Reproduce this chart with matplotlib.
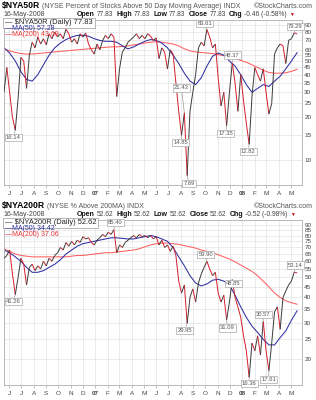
import matplotlib
matplotlib.use('Agg')
import matplotlib.pyplot as plt
import matplotlib.dates as mdates
from matplotlib.collections import LineCollection
from matplotlib.text import Annotation
from matplotlib.ticker import NullLocator
import numpy as np
import pandas as pd
import datetime as dt

W, H = 316, 400
plt.rcParams['font.family'] = ['Liberation Sans', 'DejaVu Sans']

# ---------------- data ----------------
dates = pd.date_range('2006-05-19', periods=105, freq='7D')
ma_dates = pd.date_range('2006-05-19', periods=53, freq='14D')

nya50 = [30, 45, 30, 20, 16.14, 27, 53, 50, 32, 55,
         68, 62, 74, 66, 72, 65, 78, 72, 80, 74,
         78, 72, 84, 78, 68, 72, 66, 78, 74, 79,
         66, 60, 56, 66, 60, 70, 76, 72, 78, 74,
         28, 44, 58, 62, 68, 71,
         74, 78, 72, 76, 72, 78, 75, 70, 73, 52,
         62, 58, 44, 60, 56, 35, 22, 14.85, 21.43, 7.69,
         22, 30, 40, 62, 68, 64, 83.61, 74, 62, 66,
         38, 24, 30, 17.35, 30, 48.37, 35, 22, 40, 26,
         18, 12.82, 28, 45, 40, 36, 44, 30, 21, 25,
         56, 62, 66, 64, 48, 70, 72, 79.29, 77.83]
nya50_ma50 = [62, 57, 50, 42, 37, 36, 40, 47, 55, 62,
              67, 71, 74, 76, 76, 75, 72, 70, 69, 69,
              68, 64, 61, 63, 66, 69, 71, 70, 67, 62,
              55, 48, 41, 36, 34, 38, 46, 54, 57, 55,
              50, 46, 40, 34, 30, 32, 34, 33, 36, 39,
              44, 50, 57.28]
nya50_ma200 = [61, 59, 57.5, 56.5, 56, 56, 56.5, 57, 57.5, 58,
               58.5, 59, 59.5, 60, 60.5, 61, 61.5, 62, 62.5, 63,
               63, 63.5, 64, 65, 66, 67, 68, 68.5, 68, 67,
               66, 64, 61, 59, 58, 57.5, 57, 56.5, 55.5, 54.5,
               53, 52, 50.5, 49, 47, 45, 43, 41.5, 41, 41,
               41.3, 42.2, 43.69]

nya200 = [62, 64, 68, 52, 41.26, 50, 62, 58, 46, 56,
          58, 54, 57, 55, 60, 57, 62, 60, 64, 66,
          70, 68, 74, 71, 75, 72, 76, 74, 79, 77,
          78, 74, 72, 76, 78, 81, 79, 83, 81, 85.40,
          66, 72, 70, 74, 76, 78,
          80, 78, 81, 79, 80, 78, 80, 77, 79, 72,
          76, 70, 72, 67, 71, 64, 48, 42, 46, 29.95,
          40, 44, 38, 47, 52, 56, 59.90, 55, 51, 53,
          42, 38, 41, 31.09, 38, 48.85, 40, 36, 32, 26,
          22, 16.36, 24, 22, 26, 21, 30.57, 22, 17.61, 24,
          34, 36, 28, 40, 43, 46, 48, 53.14, 52.62]
nya200_ma50 = [68, 66, 63, 60, 56, 53, 53, 54, 56, 58,
               61, 65, 68, 71, 73, 74, 75, 76, 77, 78,
               78, 77.5, 77, 77, 78, 79, 80, 79, 77, 75,
               70, 63, 57, 51, 47, 45.5, 46.5, 48.5, 49, 48,
               46, 41, 36, 32, 29, 27, 25, 23.5, 23.5, 25.5,
               27.5, 31, 34.42]
nya200_ma200 = [69, 67, 65, 64, 63.5, 63, 63, 63, 63, 63,
                63, 63, 63.5, 64, 64, 64.5, 65, 65.5, 66, 66,
                66.5, 67, 67.5, 68, 69, 70.5, 72, 73, 73.5, 73.5,
                73, 72.5, 71.5, 70.5, 69.5, 68, 67, 66, 64.5, 63,
                61.5, 59.5, 57.5, 55.5, 53.5, 51, 48, 45, 42, 40,
                38.5, 37.7, 37.06]

month_ticks = pd.date_range('2006-06-01', '2008-05-01', freq='MS')
month_labels = ['J', 'J', 'A', 'S', 'O', 'N', 'D', '07', 'F', 'M', 'A', 'M',
                'J', 'J', 'A', 'S', 'O', 'N', 'D', '08', 'F', 'M', 'A', 'M']

yticks_top = [10, 15, 20, 25, 30, 35, 40, 45, 50, 55, 60, 70, 80, 90]
yticks_bot = [20, 25, 30, 35, 40, 45, 50, 55, 60, 65, 70, 75, 80, 85, 90]

labels_top = [(16.14, -2, -7), (14.85, -1, -7), (21.43, -3, 25), (7.69, 2, -8),
              (83.61, -2, 6), (17.35, -1, -8), (48.37, 0, 8), (12.82, -1, -7),
              (79.29, 1, 6)]
labels_bot = [(41.26, -2, -7), (85.40, 1.5, 7), (29.95, -2.5, -7), (59.90, -1, 7),
              (31.09, 1, -8), (48.85, 1, -4), (30.57, 0, 7), (16.36, 0, -6),
              (17.61, 0, -9), (53.14, 1, 7)]

# ---------------- figure ----------------
fig = plt.figure(figsize=(W / 100, H / 100), dpi=100)
fig.patch.set_facecolor('white')


def px_rect(l, t, r, b):
    return [l / W, 1 - b / H, (r - l) / W, (b - t) / H]


XLIM = (mdates.date2num(dt.datetime(2006, 5, 19)), mdates.date2num(dt.datetime(2008, 5, 27)))
BLUE = '#2e2ea0'
RED_MA = '#ff6060'


def panel(rect, values, ma50, ma200, ylim, yticks, labels):
    ax = fig.add_axes(rect)
    x = mdates.date2num(dates.to_pydatetime())
    xm = mdates.date2num(ma_dates.to_pydatetime())
    ax.set_yscale('log')
    ax.plot(xm, ma200, color=RED_MA, lw=0.75, zorder=2)
    ax.plot(xm, ma50, color=BLUE, lw=0.75, zorder=2)
    pts = np.column_stack([x, values])
    segs = np.stack([pts[:-1], pts[1:]], axis=1)
    cols = ['#3a3a3a' if b > a else '#d41c2c' for a, b in zip(values[:-1], values[1:])]
    ax.add_collection(LineCollection(segs, colors=cols, linewidths=0.7, zorder=3))
    ax.set_xlim(*XLIM)
    ax.set_ylim(*ylim)
    ax.yaxis.tick_right()
    ax.set_yticks(yticks)
    ax.set_yticklabels([str(v) for v in yticks])
    ax.yaxis.set_minor_locator(NullLocator())
    ax.tick_params(axis='y', which='both', length=0, pad=2, labelsize=4.6, labelcolor='#444444')
    ax.set_xticks(mdates.date2num(month_ticks.to_pydatetime()))
    ax.set_xticklabels(month_labels)
    for t in ax.get_xticklabels():
        if t.get_text() in ('07', '08'):
            t.set_fontweight('bold')
            t.set_color('#111111')
    ax.tick_params(axis='x', length=2, width=0.5, color='#aaaaaa', pad=2.5,
                   labelsize=4.6, labelcolor='#444444')
    ax.grid(True, color='#e3e3e3', lw=0.5)
    ax.set_axisbelow(True)
    for s in ax.spines.values():
        s.set_color('#b0b0b0')
        s.set_linewidth(0.6)
    for val, dx, dy in labels:
        idx = int(np.argmin(np.abs(np.array(values) - val)))
        ax.annotate(f'{val:.2f}', xy=(x[idx], values[idx]), xytext=(dx, dy),
                    textcoords='offset pixels', ha='center', va='center',
                    fontsize=4.2, color='#555555', zorder=6, annotation_clip=False,
                    bbox=dict(boxstyle='square,pad=0.2', fc='white', ec='#aaaaaa', lw=0.5),
                    arrowprops=dict(arrowstyle='-', color='#999999', lw=0.5,
                                    shrinkA=0, shrinkB=0))
    return ax


ax1 = panel(px_rect(4, 20, 301.5, 185), nya50, nya50_ma50, nya50_ma200,
            (6.6, 97.7), yticks_top, labels_top)
ax2 = panel(px_rect(4, 220, 301.5, 385), nya200, nya200_ma50, nya200_ma200,
            (15.0, 95.2), yticks_bot, labels_bot)


def chain(x_px, y_px, parts):
    prev = None
    for txt, gap, kw in parts:
        if prev is None:
            t = fig.text(x_px / W, 1 - y_px / H, txt, va='baseline', ha='left',
                         parse_math=False, **kw)
        else:
            t = Annotation(txt, xy=(1.0, 1 - y_px / H), xycoords=(prev, 'figure fraction'),
                           xytext=(gap, 0), textcoords='offset pixels',
                           va='baseline', ha='left', parse_math=False, **kw)
            fig.add_artist(t)
        prev = t


def header(y0, sym, desc, date, o, hi, lo, cl, chg):
    B = dict(fontsize=6.2, fontweight='bold', color='#000000')
    G = dict(fontsize=5.0, color='#555555')
    chain(2, y0, [(sym, 0, B), (desc, 2, G)])
    fig.text(313 / W, 1 - y0 / H, '\u00a9StockCharts.com', ha='right', va='baseline',
             fontsize=5.0, color='#555555')
    LB = dict(fontsize=5.0, fontweight='bold', color='#111111')
    V = dict(fontsize=4.8, color='#444444')
    fig.text(3 / W, 1 - (y0 + 8.3) / H, date, ha='left', va='baseline', fontsize=5.0, color='#444444')
    chain(77, y0 + 8.3, [('Open', 0, LB), (o, 1.5, V), ('High', 3.5, LB), (hi, 1.5, V),
                          ('Low', 3.5, LB), (lo, 1.5, V), ('Close', 3.5, LB), (cl, 1.5, V),
                          ('Chg', 3.5, LB), (chg, 1.5, V),
                          ('\u25bc', 2, dict(fontsize=3.5, color='#cc0000'))])


def legend(y0, main_txt, ma50_txt, ma200_txt):
    fig.text(5 / W, 1 - y0 / H, '\u2014 ' + main_txt, ha='left', va='center', fontsize=5.4,
             color='#222222', parse_math=False,
             bbox=dict(boxstyle='square,pad=0.25', fc='white', ec='#9a9a9a', lw=0.5))
    fig.text(5 / W, 1 - (y0 + 6) / H, '\u2014' + ma50_txt, ha='left', va='center',
             fontsize=5.0, color=BLUE)
    fig.text(5 / W, 1 - (y0 + 12) / H, '\u2014' + ma200_txt, ha='left', va='center',
             fontsize=5.0, color='#ee3030')


header(8, '$NYA50R', '(NYSE Percent of Stocks Above 50 Day Moving Average) INDX',
       '16-May-2008', '77.83', '77.83', '77.83', '77.83', '-0.46 (-0.58%)')
header(208, '$NYA200R', '(NYSE % Above 200MA) INDX',
       '16-May-2008', '52.62', '52.62', '52.62', '52.62', '-0.52 (-0.98%)')
legend(23, '$NYA50R (Daily) 77.83', 'MA(50) 57.28', 'MA(200) 43.69')
legend(223, '$NYA200R (Daily) 52.62', 'MA(50) 34.42', 'MA(200) 37.06')

fig.savefig('out.png', dpi=100, facecolor='white')
